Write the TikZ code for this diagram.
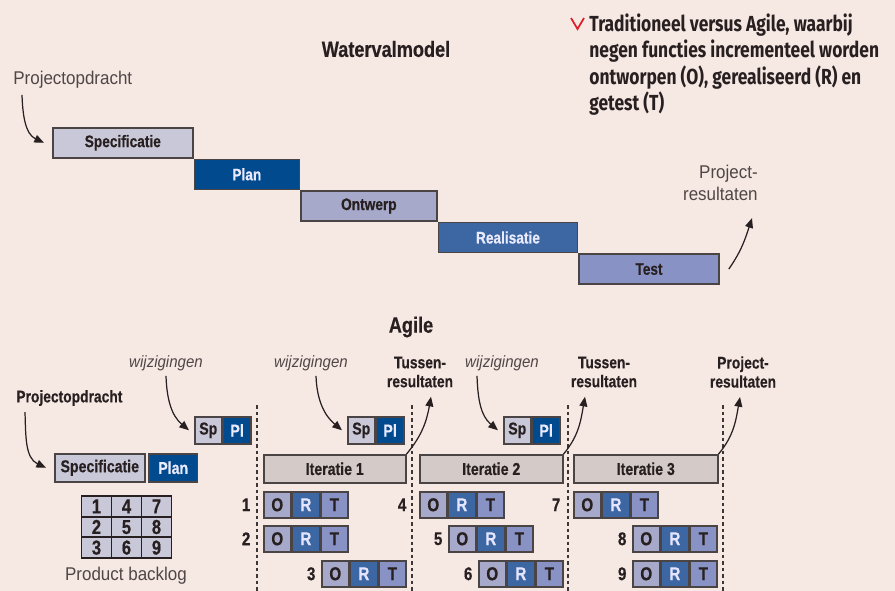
\documentclass[tikz,border=0pt]{standalone}
\usepackage{fontspec}
\setmainfont{Liberation Sans}[FakeStretch=0.82, BoldFeatures={FakeBold=0.4}]
\newfontfamily\plainfont{Liberation Sans}[FakeStretch=0.92]
\newfontfamily\capfont{Fira Sans}[FakeStretch=0.8]
\usepackage{xcolor}
\usepackage{tikz}
\usetikzlibrary{arrows.meta, positioning, matrix}
\definecolor{bgcolor}{RGB}{246,233,228}
\definecolor{boxline}{RGB}{75,68,68}
\definecolor{darktext}{RGB}{40,32,32}
\definecolor{softtext}{RGB}{80,70,70}
\definecolor{speccolor}{RGB}{201,200,216}
\definecolor{plancolor}{RGB}{0,74,141}
\definecolor{ontwcolor}{RGB}{166,169,201}
\definecolor{realcolor}{RGB}{61,103,163}
\definecolor{testcolor}{RGB}{136,146,196}
\definecolor{itercolor}{RGB}{212,203,201}
\definecolor{markred}{RGB}{222,30,40}

\begin{document}
\begin{tikzpicture}[
    x=0.02cm, y=-0.02cm,
    wfbox/.style={draw=boxline, line width=0.9pt, minimum height=0.6cm, inner sep=0pt, anchor=north west, font=\fontsize{9.5}{10}\selectfont\bfseries},
    agbox/.style={draw=boxline, line width=0.9pt, minimum height=0.56cm, inner sep=0pt, font=\fontsize{9.8}{10}\selectfont\bfseries},
    ortbox/.style={agbox, minimum width=0.54cm, minimum height=0.52cm, font=\fontsize{10.6}{10}\selectfont\bfseries},
    cell/.style={draw=darktext, line width=1.1pt, fill=speccolor, minimum width=0.6cm, minimum height=0.41cm, inner sep=0pt, text=darktext, font=\fontsize{11.5}{10}\selectfont\bfseries},
    num/.style={inner sep=0pt, text=darktext, font=\fontsize{10.5}{10}\selectfont\bfseries},
    title/.style={text=darktext, font=\fontsize{12.6}{14}\selectfont\bfseries},
    plain/.style={inner sep=0pt, text=softtext, align=right, font=\plainfont\fontsize{10.5}{12.5}\selectfont},
    bold/.style={inner sep=0pt, text=darktext, align=center, font=\fontsize{9.6}{10.8}\selectfont\bfseries},
    change/.style={inner sep=0pt, text=softtext, font=\plainfont\fontsize{9.3}{10}\selectfont\itshape},
    arr/.style={-{Triangle[length=5.5pt,width=4.5pt]}, line width=0.7pt, draw=darktext},
    sepline/.style={draw=darktext!90, line width=1.1pt, dash pattern=on 2pt off 1.7pt}
]
    \fill[bgcolor] (0,0) rectangle (895,591);
    \useasboundingbox (0,0) rectangle (895,591);

    % Caption
    \draw[markred, line width=1pt] (571,18) -- (577.5,29) -- (584,18);
    \node[anchor=north west, inner sep=0pt, align=left, text=darktext, font=\capfont\bfseries\fontsize{12.4}{15.1}\selectfont] (capt) at (589,13)
        {Traditioneel versus Agile, waarbij\\negen functies incrementeel worden\\ontworpen (O), gerealiseerd (R) en\\getest (T)};

    % Watervalmodel
    \node[title] (wtitle) at (386,49) {Watervalmodel};
    \node[plain, anchor=west] (wpo) at (13,80) {Projectopdracht};
    \node[wfbox, fill=speccolor, text=darktext, minimum width=2.8cm] (wspec) at (52,127) {Specificatie};
    \node[wfbox, fill=plancolor, text=white!92!blue, minimum width=2.1cm] (wplan) at (wspec.south east) {Plan};
    \node[wfbox, fill=ontwcolor, text=darktext, minimum width=2.72cm] (wontw) at (wplan.south east) {Ontwerp};
    \node[wfbox, fill=realcolor, text=white!92!blue, minimum width=2.78cm] (wreal) at (wontw.south east) {Realisatie};
    \node[wfbox, fill=testcolor, text=darktext, minimum width=2.8cm] (wtest) at (wreal.south east) {Test};
    \node[plain, anchor=east] (wpr) at (758,183) {Project-\\resultaten};

    \draw[arr] ([xshift=0.18cm,yshift=-0.12cm]wpo.south west) to[out=-88,in=155] ([xshift=-0.16cm]wspec.west);
    \draw[arr] ([xshift=0.18cm]wtest.east) to[out=55,in=-108] ([xshift=-0.12cm,yshift=-0.34cm]wpr.south east);

    % Agile
    \node[title] (atitle) at (411,327) {Agile};
    \node[bold, anchor=west] (apo) at (16,398) {Projectopdracht};
    \node[change] (wz1) at (166,363) {wijzigingen};
    \node[change] (wz2) at (311,363) {wijzigingen};
    \node[change] (wz3) at (502,363) {wijzigingen};
    \node[bold] (tr1) at (420,372) {Tussen-\\resultaten};
    \node[bold] (tr2) at (604,372) {Tussen-\\resultaten};
    \node[bold] (apr) at (743,372) {Project-\\resultaten};

    % Start
    \node[agbox, anchor=north west, fill=speccolor, text=darktext, minimum width=1.8cm] (aspec) at (54,453) {Specificatie};
    \node[agbox, fill=plancolor, text=white!92!blue, minimum width=0.97cm, right=1.5pt of aspec] (aplan) {Plan};
    \matrix (backlog) [matrix of nodes, nodes={cell}, column sep=-1.1pt, row sep=-1.1pt] at (126.5,527)
        {1 & 4 & 7\\ 2 & 5 & 8\\ 3 & 6 & 9\\};
    \node[plain, align=center] (pbl) at (126,576) {Product backlog};

    % Sp / Pl
    \node[agbox, anchor=north west, fill=speccolor, text=darktext, minimum width=0.54cm, minimum height=0.54cm] (sp1) at (194,416) {Sp};
    \node[agbox, fill=plancolor, text=white!92!blue, minimum width=0.55cm, minimum height=0.54cm, right=0pt of sp1] (pl1) {Pl};
    \node[agbox, anchor=north west, fill=speccolor, text=darktext, minimum width=0.54cm, minimum height=0.54cm] (sp2) at (347,416) {Sp};
    \node[agbox, fill=plancolor, text=white!92!blue, minimum width=0.55cm, minimum height=0.54cm, right=0pt of sp2] (pl2) {Pl};
    \node[agbox, anchor=north west, fill=speccolor, text=darktext, minimum width=0.54cm, minimum height=0.54cm] (sp3) at (503,416) {Sp};
    \node[agbox, fill=plancolor, text=white!92!blue, minimum width=0.55cm, minimum height=0.54cm, right=0pt of sp3] (pl3) {Pl};

    % Iterations
    \node[agbox, anchor=north west, fill=itercolor, text=darktext, minimum width=2.84cm] (it1) at (263,454) {Iteratie 1};
    \node[agbox, anchor=north west, fill=itercolor, text=darktext, minimum width=2.86cm] (it2) at (419,454) {Iteratie 2};
    \node[agbox, anchor=north west, fill=itercolor, text=darktext, minimum width=2.88cm] (it3) at (573,454) {Iteratie 3};

    % O R T rows
    \foreach \n/\x/\y/\gap in {1/263/491/7pt, 2/263/525/7pt, 3/321/560/3pt,
                               4/419/491/7pt, 5/448/525/3pt, 6/478/560/3pt,
                               7/573/491/7pt, 8/632/525/3pt, 9/632/560/3pt} {
        \node[ortbox, anchor=north west, fill=ontwcolor, text=darktext] (o\n) at (\x,\y) {O};
        \node[ortbox, fill=realcolor, text=white!90!blue, right=0pt of o\n] (r\n) {R};
        \node[ortbox, fill=testcolor, text=darktext, right=0pt of r\n] (t\n) {T};
        \node[num, left=\gap of o\n] (n\n) {\n};
    }

    % Separators
    \coordinate (s1t) at (257,405);  \coordinate (s1b) at (257,591);
    \coordinate (s2t) at (412,405);  \coordinate (s2b) at (412,591);
    \coordinate (s3t) at (568,405);  \coordinate (s3b) at (568,591);
    \coordinate (s4t) at (723,405);  \coordinate (s4b) at (723,591);
    \draw[sepline] (s1t) -- (s1b);
    \draw[sepline] (s2t) -- (s2b);
    \draw[sepline] (s3t) -- (s3b);
    \draw[sepline] (s4t) -- (s4b);

    % Connections
    \draw[arr] ([xshift=0.18cm,yshift=-0.12cm]apo.south west) to[out=-88,in=155] ([xshift=-0.16cm]aspec.west);
    \draw[arr] ([yshift=-0.1cm]wz1.south) to[out=-88,in=140] ([xshift=-0.1cm]sp1.west);
    \draw[arr] ([xshift=0.1cm,yshift=-0.1cm]wz2.south) to[out=-88,in=140] ([xshift=-0.1cm]sp2.west);
    \draw[arr] ([xshift=-0.5cm,yshift=-0.1cm]wz3.south) to[out=-88,in=140] ([xshift=-0.1cm]sp3.west);
    \draw[arr] (it1.north east) to[out=50,in=-100] ([xshift=0.22cm,yshift=-0.18cm]tr1.south);
    \draw[arr] (it2.north east) to[out=50,in=-100] ([xshift=-0.38cm,yshift=-0.18cm]tr2.south);
    \draw[arr] (it3.north east) to[out=50,in=-100] ([xshift=-0.06cm,yshift=-0.18cm]apr.south);
\end{tikzpicture}
\end{document}
